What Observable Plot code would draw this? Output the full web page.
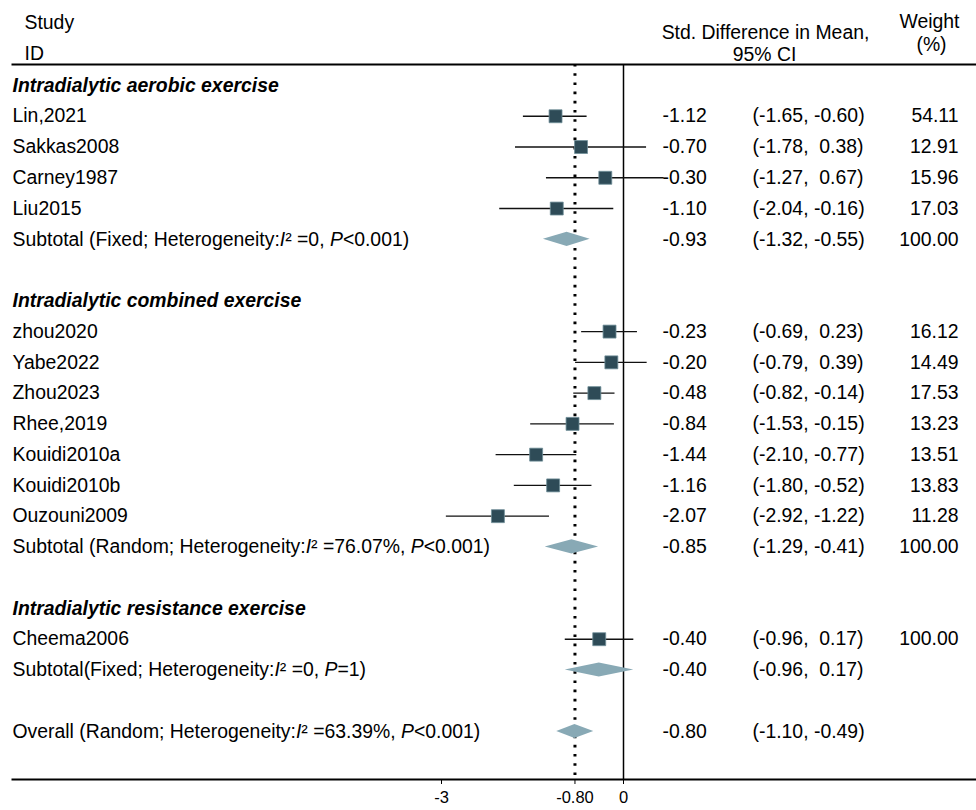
<!DOCTYPE html>
<html>
<head>
<meta charset="utf-8">
<script src="https://cdn.jsdelivr.net/npm/d3@7"></script>
<script src="https://cdn.jsdelivr.net/npm/@observablehq/plot@0.6"></script>
<style>
  html, body { margin: 0; padding: 0; background: #fff; }
  #chart { width: 976px; height: 810px; }
</style>
</head>
<body>
<div id="chart"></div>
<script>
// ---- data ----
const groupNames = ["Intradialytic aerobic exercise", "Intradialytic combined exercise", "Intradialytic resistance exercise"];
const studyLabels = ["Lin,2021", "Sakkas2008", "Carney1987", "Liu2015", "zhou2020", "Yabe2022", "Zhou2023", "Rhee,2019", "Kouidi2010a", "Kouidi2010b", "Ouzouni2009", "Cheema2006"];
const studyGroup = [0, 0, 0, 0, 1, 1, 1, 1, 1, 1, 1, 2];
const studyEst = [-1.12, -0.70, -0.30, -1.10, -0.23, -0.20, -0.48, -0.84, -1.44, -1.16, -2.07, -0.40];
const studyLo = [-1.65, -1.78, -1.27, -2.04, -0.69, -0.79, -0.82, -1.53, -2.10, -1.80, -2.92, -0.96];
const studyHi = [-0.60, 0.38, 0.67, -0.16, 0.23, 0.39, -0.14, -0.15, -0.77, -0.52, -1.22, 0.17];
const studyWeight = [54.11, 12.91, 15.96, 17.03, 16.12, 14.49, 17.53, 13.23, 13.51, 13.83, 11.28, 100.00];
const subtotalLabels = [
  "Subtotal (Fixed; Heterogeneity:I² =0, P<0.001)",
  "Subtotal (Random; Heterogeneity:I² =76.07%, P<0.001)",
  "Subtotal(Fixed; Heterogeneity:I² =0, P=1)"
];
const subtotalEst = [-0.93, -0.85, -0.40];
const subtotalLo = [-1.32, -1.29, -0.96];
const subtotalHi = [-0.55, -0.41, 0.17];
const subtotalWeight = [100.00, 100.00, null];
const overallLabel = "Overall (Random; Heterogeneity:I² =63.39%, P<0.001)";
const overallEst = -0.80, overallLo = -1.10, overallHi = -0.49;
const xTicks = [-3, -0.80, 0];
const xTickLabels = ["-3", "-0.80", "0"];

// ---- build table rows ----
const rows = [];
const studies = [];
const summaries = [];
let r = 0;
groupNames.forEach((g, gi) => {
  rows.push({row: r++, label: g, kind: "header"});
  studyLabels.forEach((s, si) => {
    if (studyGroup[si] !== gi) return;
    const d = {row: r++, label: s, kind: "study", est: studyEst[si], lo: studyLo[si], hi: studyHi[si], w: studyWeight[si]};
    rows.push(d); studies.push(d);
  });
  const sd = {row: r++, label: subtotalLabels[gi], kind: "summary", est: subtotalEst[gi], lo: subtotalLo[gi], hi: subtotalHi[gi], w: subtotalWeight[gi], id: "g" + gi};
  rows.push(sd); summaries.push(sd);
  r++; // blank row
});
const od = {row: r, label: overallLabel, kind: "summary", est: overallEst, lo: overallLo, hi: overallHi, w: null, id: "overall"};
rows.push(od); summaries.push(od);

const NB = "\u00a0";
const fmt = v => v.toFixed(2);
const ciText = d => "(" + fmt(d.lo) + "," + (d.hi < 0 ? NB : NB + NB) + fmt(d.hi) + ")";
const valueRows = rows.filter(d => d.kind !== "header");

// diamond outline points (half-height in row units)
const hh = 0.23;
const diamondPts = summaries.flatMap(d => [
  {id: d.id, x: d.lo, y1: d.row, y2: d.row},
  {id: d.id, x: d.est, y1: d.row - hh, y2: d.row + hh},
  {id: d.id, x: d.hi, y1: d.row, y2: d.row}
]);

const FS = 19.4;
const font = "'Liberation Sans', Arial, Helvetica, sans-serif";
const hdr = (txt, anchor, dx, dy, ta) => Plot.text([txt], {text: d => d, frameAnchor: anchor, dx, dy, textAnchor: ta, lineAnchor: "middle", fontSize: FS});

const chart = Plot.plot({
  width: 976,
  height: 810,
  marginLeft: 12,
  marginRight: 0,
  marginTop: 64,
  marginBottom: 31,
  x: {domain: [-3, 0], range: [441, 623]},
  y: {domain: [0, 21], range: [85, 731], axis: null},
  style: {fontFamily: font, fontSize: FS + "px", color: "#000", background: "#fff", overflow: "visible"},
  marks: [
    Plot.frame({anchor: "top", stroke: "#000", strokeWidth: 2}),
    Plot.frame({anchor: "bottom", stroke: "#000", strokeWidth: 2}),
    Plot.ruleX([0], {stroke: "#000", strokeWidth: 1.5}),
    Plot.ruleX([overallEst], {stroke: "#000", strokeWidth: 3, strokeDasharray: "2.6,6.6"}),
    Plot.ruleY(studies, {y: "row", x1: "lo", x2: "hi", stroke: "#111", strokeWidth: 1.4}),
    Plot.dot(studies, {x: "est", y: "row", symbol: "square", r: 7.3, fill: "#2e4b57", stroke: "#6f8e98", strokeWidth: 0.8}),
    Plot.areaY(diamondPts, {x: "x", y1: "y1", y2: "y2", z: "id", fill: "#88a9b5", curve: "linear"}),
    Plot.axisX({ticks: xTicks, tickFormat: d => xTickLabels[xTicks.indexOf(d)], tickSize: 5, tickPadding: 7, fontSize: 16.5, label: null, anchor: "bottom"}),
    // headers
    hdr("Study", "top-left", 12, -42, "start"),
    hdr("ID", "top-left", 12, -11, "start"),
    hdr("Std. Difference in Mean,", "top-left", 753, -32, "middle"),
    hdr("95% CI", "top-left", 752, -10, "middle"),
    hdr("Weight", "top-right", -47, -43, "middle"),
    hdr("(%)", "top-right", -45, -20, "middle"),
    // row labels
    Plot.text(rows.filter(d => d.kind === "header"), {y: "row", text: "label", frameAnchor: "left", textAnchor: "start", fontSize: FS, fontWeight: "bold", fontStyle: "italic"}),
    Plot.text(valueRows, {y: "row", text: "label", frameAnchor: "left", textAnchor: "start", fontSize: FS}),
    // value columns
    Plot.text(valueRows, {y: "row", text: d => fmt(d.est), frameAnchor: "left", dx: 650, textAnchor: "start", fontSize: FS}),
    Plot.text(valueRows, {y: "row", text: ciText, frameAnchor: "left", dx: 740, textAnchor: "start", fontSize: FS}),
    Plot.text(valueRows.filter(d => d.w != null), {y: "row", text: d => fmt(d.w), frameAnchor: "right", dx: -18, textAnchor: "end", fontSize: FS})
  ]
});

// italic I and P in heterogeneity statements
d3.select(chart).selectAll("text").each(function() {
  const t = this.textContent;
  if (!t.includes("Heterogeneity")) return;
  const parts = t.split(/(I(?=²)|P(?=[<=]))/);
  const sel = d3.select(this);
  sel.text(null);
  parts.forEach(p => {
    if (!p) return;
    const ts = sel.append("tspan").text(p);
    if (p === "I" || p === "P") ts.attr("font-style", "italic");
  });
});

document.getElementById("chart").appendChild(chart);
</script>
</body>
</html>
